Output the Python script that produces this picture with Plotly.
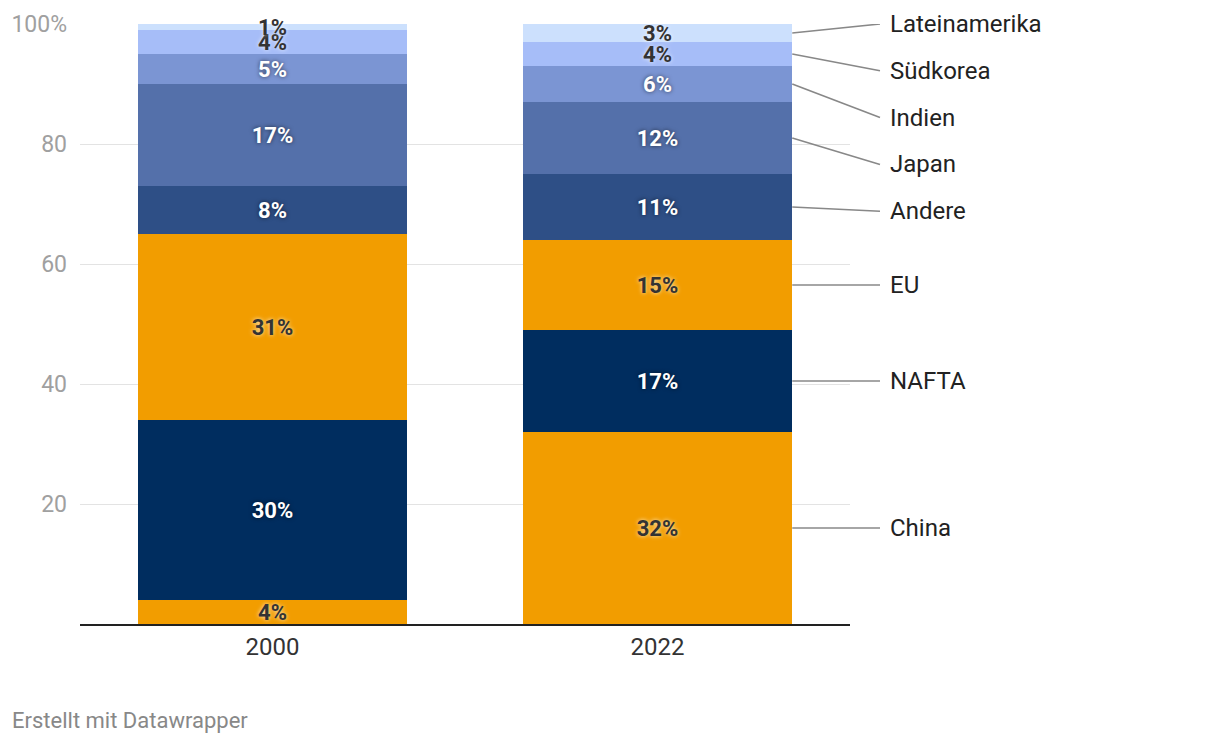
import plotly.graph_objects as go

years = ["2000", "2022"]
regions = ["China", "NAFTA", "EU", "Andere", "Japan", "Indien", "Südkorea", "Lateinamerika"]
v_china = [4, 32]
v_nafta = [30, 17]
v_eu = [31, 15]
v_andere = [8, 11]
v_japan = [17, 12]
v_indien = [5, 6]
v_suedkorea = [4, 4]
v_latein = [1, 3]
values = [v_china, v_nafta, v_eu, v_andere, v_japan, v_indien, v_suedkorea, v_latein]

colors = ["#f29d00", "#002d5f", "#f29d00", "#2e4f86", "#5470aa", "#7b95d3", "#a6bdf8", "#cce0fd"]
dark_text = [True, False, True, False, False, False, True, True]

y_ticks = [20, 40, 60, 80, 100]
y_ticktext = ["20", "40", "60", "80", "100%"]

FONT = "Roboto"
BAR_W = 0.7
# page offset compensation (browser body margin)
OFF = 8
ML, MT = 80 - OFF, 24 - OFF
PW, PH = 770, 600

fig = go.Figure()
for name, vals, col, dk in zip(regions, values, colors, dark_text):
    fig.add_trace(go.Bar(
        x=years, y=vals, name=name, marker=dict(color=col, line=dict(width=0)),
        width=BAR_W,
        texttemplate="%{y}%", textposition="inside", insidetextanchor="middle",
        textangle=0, cliponaxis=False,
        textfont=dict(family=FONT, size=22, weight="bold",
                      color="#333333" if dk else "#ffffff",
                      shadow=("0px 0px 4px rgba(255,255,255,0.8)" if dk else "0px 0px 4px rgba(0,0,0,0.6)")),
        hoverinfo="skip",
    ))

# Direct labels for the last bar, spread apart to avoid overlap
last = [v[-1] for v in values]
mids = []
acc = 0
for v in last:
    mids.append(acc + v / 2)
    acc += v
gap = 7.8
pos = []
for m in mids:
    pos.append(m if not pos else max(m, pos[-1] + gap))
top = 100
for i in range(len(pos) - 1, -1, -1):
    limit = top if i == len(pos) - 1 else pos[i + 1] - gap
    pos[i] = min(pos[i], limit)

n = len(years)
bar_edge = (n - 1 + BAR_W / 2 + 0.5) / n
line_end = 1 + 30 / PW
text_x = 1 + 38 / PW
shapes = []
annotations = []
for name, m, p in zip(regions, mids, pos):
    shapes.append(dict(type="line", xref="paper", yref="y", x0=bar_edge, x1=line_end,
                       y0=m, y1=p, line=dict(color="#888888", width=1.6), layer="above"))
    annotations.append(dict(xref="paper", yref="y", x=text_x, y=p, text=name, showarrow=False,
                            xanchor="left", yanchor="middle",
                            font=dict(family=FONT, size=24, color="#222222")))

annotations.append(dict(xref="paper", yref="paper", x=(10 - 80) / PW, y=-(720 - 624) / PH,
                        text="Erstellt mit Datawrapper", showarrow=False,
                        xanchor="left", yanchor="middle",
                        font=dict(family=FONT, size=22, color="#888888")))

fig.update_layout(
    barmode="stack",
    width=1220, height=744,
    margin=dict(l=ML, r=1220 - ML - PW, t=MT, b=744 - MT - PH, autoexpand=False),
    paper_bgcolor="white", plot_bgcolor="white",
    showlegend=False,
    shapes=shapes, annotations=annotations,
    uniformtext=dict(mode="show", minsize=22),
    font=dict(family=FONT),
    xaxis=dict(type="category", range=[-0.5, n - 0.5], showline=True, linecolor="#222222",
               linewidth=2, ticks="", tickfont=dict(family=FONT, size=24, color="#333333"),
               showgrid=False, fixedrange=True, automargin=False),
    yaxis=dict(range=[0, 100], tickvals=y_ticks, ticktext=y_ticktext, showgrid=True,
               gridcolor="#e3e3e3", gridwidth=1.2, zeroline=False, showline=False, ticks="",
               ticklabelstandoff=12, automargin=False,
               tickfont=dict(family=FONT, size=23, color="#a0a0a0"), fixedrange=True),
)

fig.write_html("out.html")
